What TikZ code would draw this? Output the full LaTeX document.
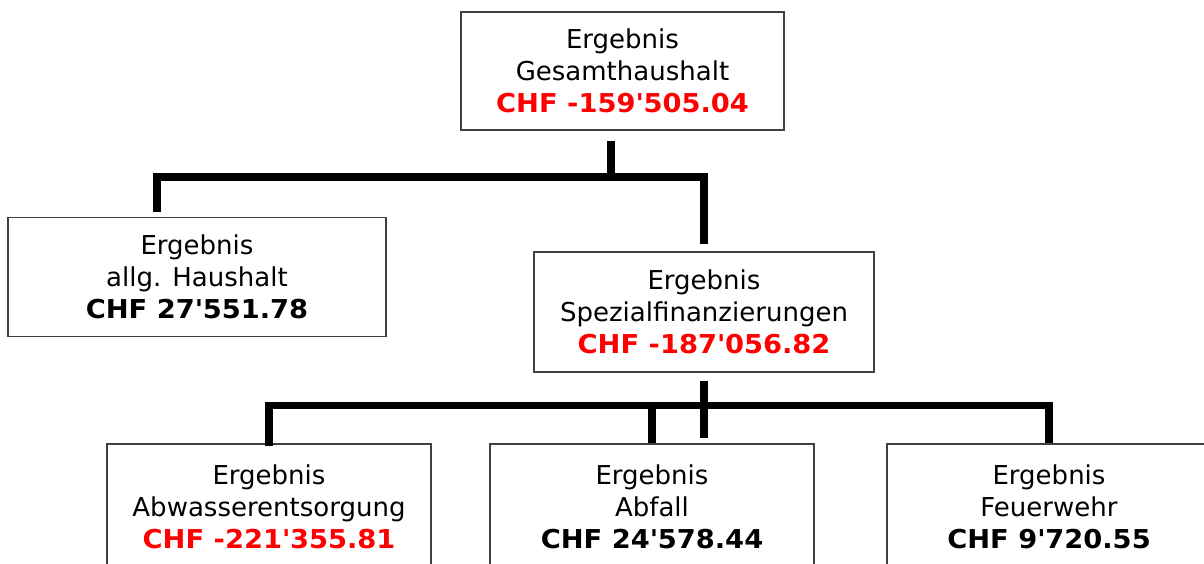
\documentclass[tikz,border=0pt]{standalone}
\usepackage{fontspec}
\setmainfont{DejaVu Sans}
\usetikzlibrary{positioning}
\usepackage{xcolor}

\newcommand{\betrag}[1]{{\bfseries\addfontfeature{FakeStretch=1.05}#1}}

\begin{document}
\begin{tikzpicture}[
            box/.style={draw=black!75, line width=0.65pt, fill=white, rectangle, align=center,
                minimum width=6.48cm, minimum height=2.4cm, inner sep=0pt,
                font=\fontsize{14.8}{18.2}\selectfont},
            bar/.style={line width=4.4pt}
        ]
            \useasboundingbox (0,0) rectangle (24.08,-11.26);

            \node[box, minimum width=6.46cm, minimum height=2.36cm] (gesamt) at (12.45,-1.42) {Ergebnis\\Gesamthaushalt\\\betrag{\color{red}CHF -159\textquotesingle 505.04}};
            \node[box, minimum width=7.56cm, minimum height=2.38cm] (allg) at (3.94,-5.54) {Ergebnis\\allg. Haushalt\\\betrag{CHF 27\textquotesingle 551.78}};
            \node[box, minimum width=6.8cm] (spezial) at (14.08,-6.24) {Ergebnis\\Spezialfinanzierungen\\\betrag{\color{red}CHF -187\textquotesingle 056.82}};
            \node[box, minimum height=2.5cm] (abwasser) at (5.38,-10.13) {Ergebnis\\Abwasserentsorgung\\\betrag{\color{red}CHF -221\textquotesingle 355.81}};
            \node[box, minimum height=2.5cm] (abfall) at (13.04,-10.13) {Ergebnis\\Abfall\\\betrag{CHF 24\textquotesingle 578.44}};
            \node[box, minimum height=2.5cm] (feuerwehr) at (20.98,-10.13) {Ergebnis\\Feuerwehr\\\betrag{CHF 9\textquotesingle 720.55}};

            \coordinate (j1) at (12.22,-3.54);
            \coordinate (j2) at (14.08,-8.11);
            \coordinate (stem) at (14.08,-8.76);

            \draw[bar, shorten <=0.2cm] (gesamt.south -| j1) -- (j1);
            \draw[bar] ([xshift=-0.8cm,yshift=0.1cm]allg.north) |- (j1) -| ([yshift=0.14cm]spezial.north);

            \draw[bar, shorten <=0.16cm] (spezial.south) -- (stem);
            \draw[bar] ([yshift=-0.06cm]abwasser.north) |- (j2) -| (feuerwehr.north);
            \draw[bar] (abfall.north) -- (abfall.north |- j2);
        \end{tikzpicture}
\end{document}
